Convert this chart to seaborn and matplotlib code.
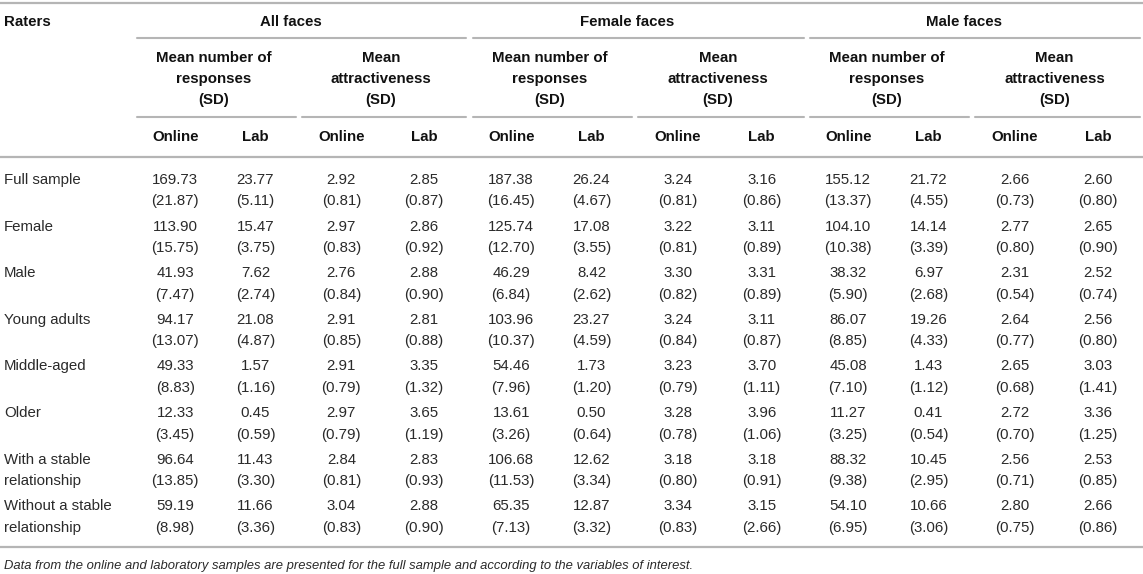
import pandas as pd
import matplotlib.pyplot as plt
import seaborn as sns

# Table values: rows = raters, columns = (number Online, number Lab, attract Online, attract Lab)
raters = ["Full sample", "Female", "Male", "Young adults", "Middle-aged", "Older",
          "With a stable\nrelationship", "Without a stable\nrelationship"]
groups = ["All faces", "Female faces", "Male faces"]
measures = ["Mean number of\nresponses\n(SD)", "Mean\nattractiveness\n(SD)"]
samples = ["Online", "Lab"]

all_faces_mean = [[169.73, 23.77, 2.92, 2.85], [113.90, 15.47, 2.97, 2.86],
                  [41.93, 7.62, 2.76, 2.88], [94.17, 21.08, 2.91, 2.81],
                  [49.33, 1.57, 2.91, 3.35], [12.33, 0.45, 2.97, 3.65],
                  [96.64, 11.43, 2.84, 2.83], [59.19, 11.66, 3.04, 2.88]]
all_faces_sd = [[21.87, 5.11, 0.81, 0.87], [15.75, 3.75, 0.83, 0.92],
                [7.47, 2.74, 0.84, 0.90], [13.07, 4.87, 0.85, 0.88],
                [8.83, 1.16, 0.79, 1.32], [3.45, 0.59, 0.79, 1.19],
                [13.85, 3.30, 0.81, 0.93], [8.98, 3.36, 0.83, 0.90]]
female_faces_mean = [[187.38, 26.24, 3.24, 3.16], [125.74, 17.08, 3.22, 3.11],
                     [46.29, 8.42, 3.30, 3.31], [103.96, 23.27, 3.24, 3.11],
                     [54.46, 1.73, 3.23, 3.70], [13.61, 0.50, 3.28, 3.96],
                     [106.68, 12.62, 3.18, 3.18], [65.35, 12.87, 3.34, 3.15]]
female_faces_sd = [[16.45, 4.67, 0.81, 0.86], [12.70, 3.55, 0.81, 0.89],
                   [6.84, 2.62, 0.82, 0.89], [10.37, 4.59, 0.84, 0.87],
                   [7.96, 1.20, 0.79, 1.11], [3.26, 0.64, 0.78, 1.06],
                   [11.53, 3.34, 0.80, 0.91], [7.13, 3.32, 0.83, 2.66]]
male_faces_mean = [[155.12, 21.72, 2.66, 2.60], [104.10, 14.14, 2.77, 2.65],
                   [38.32, 6.97, 2.31, 2.52], [86.07, 19.26, 2.64, 2.56],
                   [45.08, 1.43, 2.65, 3.03], [11.27, 0.41, 2.72, 3.36],
                   [88.32, 10.45, 2.56, 2.53], [54.10, 10.66, 2.80, 2.66]]
male_faces_sd = [[13.37, 4.55, 0.73, 0.80], [10.38, 3.39, 0.80, 0.90],
                 [5.90, 2.68, 0.54, 0.74], [8.85, 4.33, 0.77, 0.80],
                 [7.10, 1.12, 0.68, 1.41], [3.25, 0.54, 0.70, 1.25],
                 [9.38, 2.95, 0.71, 0.85], [6.95, 3.06, 0.75, 0.86]]
footnote = ("Data from the online and laboratory samples are presented for the "
            "full sample and according to the variables of interest.")

# Build a long table
records = []
for g, (mean_tab, sd_tab) in enumerate([(all_faces_mean, all_faces_sd),
                                         (female_faces_mean, female_faces_sd),
                                         (male_faces_mean, male_faces_sd)]):
    for r, rater in enumerate(raters):
        for c in range(4):
            records.append({"rater": r, "col": g * 4 + c,
                            "mean": mean_tab[r][c], "sd": sd_tab[r][c]})
df = pd.DataFrame(records)

sns.set_theme(style="white")
plt.rcParams["font.family"] = ["Liberation Sans", "DejaVu Sans"]

fig = plt.figure(figsize=(11.43, 5.74), dpi=100)
ax = fig.add_axes([0, 0, 1, 1])
ax.set_xlim(0, 1143)
ax.set_ylim(574, 0)
ax.axis("off")

line_col = "#b5b5b5"
text_col = "#2a2a2a"
fs = 10.8

# layout of the header spans (pixel space)
sub_spans = [(137, 296), (302, 466), (473, 632), (638, 804), (810, 969), (975, 1140)]
group_spans = [(137, 466), (473, 804), (810, 1140)]
col_x = []
for a, b in sub_spans:
    col_x += [a + 0.24 * (b - a), a + 0.745 * (b - a)]

# horizontal rules
ax.plot([0, 1143], [3, 3], color=line_col, lw=1.6)
ax.plot([0, 1143], [157, 157], color=line_col, lw=1.6)
ax.plot([0, 1143], [547, 547], color=line_col, lw=1.6)
for a, b in group_spans:
    ax.plot([a, b], [38, 38], color=line_col, lw=1.5)
for a, b in sub_spans:
    ax.plot([a, b], [117, 117], color=line_col, lw=1.5)

# headers
ax.text(4, 22, "Raters", ha="left", va="center", fontsize=fs, fontweight="bold", color="#111")
for (a, b), name in zip(group_spans, groups):
    ax.text((a + b) / 2 - 11, 22, name, ha="center", va="center", fontsize=fs,
            fontweight="bold", color="#111")
for i, (a, b) in enumerate(sub_spans):
    for k, line in enumerate(measures[i % 2].split("\n")):
        ax.text((a + b) / 2 - 3, 58 + 21 * k, line, ha="center", va="center",
                fontsize=fs, fontweight="bold", color="#111")
for i, x in enumerate(col_x):
    ax.text(x, 137, samples[i % 2], ha="center", va="center", fontsize=fs,
            fontweight="bold", color="#111")

# body
row_y0, row_pitch, sub_gap = 180, 46.6, 21.5
for r, rater in enumerate(raters):
    y = row_y0 + r * row_pitch
    for k, line in enumerate(rater.split("\n")):
        ax.text(4, y + k * sub_gap, line, ha="left", va="center", fontsize=fs, color=text_col)
for _, row in df.iterrows():
    x = col_x[int(row["col"])]
    y = row_y0 + int(row["rater"]) * row_pitch
    ax.text(x, y, f"{row['mean']:.2f}", ha="center", va="center", fontsize=fs, color=text_col)
    ax.text(x, y + sub_gap, f"({row['sd']:.2f})", ha="center", va="center",
            fontsize=fs, color=text_col)

ax.text(4, 566, footnote, ha="left", va="center", fontsize=9.4, style="italic", color=text_col)

fig.savefig("out.png", dpi=100)
